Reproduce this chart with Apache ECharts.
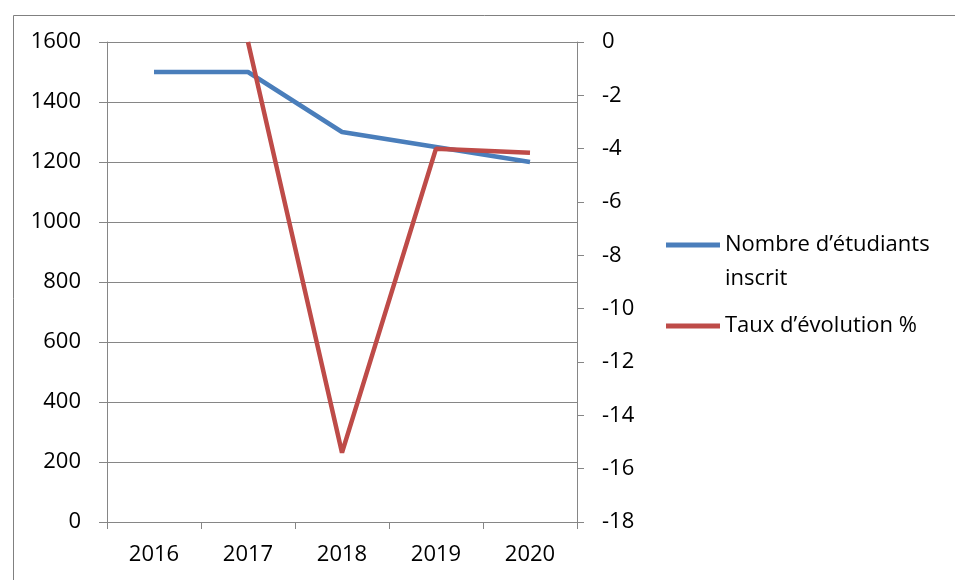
<!DOCTYPE html>
<html>
<head>
<meta charset="utf-8">
<script src="https://cdn.jsdelivr.net/npm/echarts@6/dist/echarts.min.js"></script>
<style>html,body{margin:0;padding:0;background:#fff;}#c{width:955px;height:580px;}</style>
</head>
<body>
<div id="c"></div>
<script>
const categories = ['2016', '2017', '2018', '2019', '2020'];
const students = [1500, 1500, 1300, 1250, 1200];
const evolution = ['-', 0, -15.4, -4.0, -4.15];
const leftTicks = { min: 0, max: 1600, interval: 200 };
const rightTicks = { min: -18, max: 0, interval: 2 };
const nameStudents = 'Nombre d’étudiants\ninscrit';
const nameEvolution = 'Taux d’évolution %';

const FONT = 'Open Sans';
const GRAY = '#868686';
const chart = echarts.init(document.getElementById('c'), null, { renderer: 'canvas' });
const legendText = { fontFamily: FONT, fontSize: 22, color: '#000', lineHeight: 34 };
const plain = function (v) { return String(v); };
chart.setOption({
  animation: false,
  backgroundColor: '#fff',
  graphic: [{
    type: 'rect', left: 11, top: 13, z: -1,
    shape: { width: 1000, height: 600 },
    style: { fill: 'none', stroke: '#808080', lineWidth: 1 }
  }],
  legend: [{
    data: [nameStudents], orient: 'vertical', left: 661, top: 189,
    icon: 'rect', itemWidth: 54, itemHeight: 5, itemGap: 0,
    textStyle: legendText,
    formatter: function (n) { return '\n' + n; }
  }, {
    data: [nameEvolution], orient: 'vertical', left: 661, top: 304,
    icon: 'rect', itemWidth: 54, itemHeight: 5,
    textStyle: legendText
  }],
  grid: { left: 107, right: 378, top: 42, bottom: 58, containLabel: false },
  xAxis: {
    type: 'category', data: categories, boundaryGap: true,
    axisLine: { lineStyle: { color: GRAY, width: 1 } },
    axisTick: { show: true, length: 7, alignWithLabel: false, lineStyle: { color: GRAY } },
    axisLabel: { fontFamily: FONT, fontSize: 22, color: '#000', margin: 22 }
  },
  yAxis: [{
    type: 'value', position: 'left', min: leftTicks.min, max: leftTicks.max, interval: leftTicks.interval,
    axisLine: { show: true, lineStyle: { color: GRAY, width: 1 } },
    axisTick: { show: true, length: 8, lineStyle: { color: GRAY } },
    splitLine: { show: true, lineStyle: { color: GRAY, width: 1 } },
    axisLabel: { fontFamily: FONT, fontSize: 22, color: '#000', margin: 26, formatter: plain }
  }, {
    type: 'value', position: 'right', min: rightTicks.min, max: rightTicks.max, interval: rightTicks.interval,
    axisLine: { show: true, lineStyle: { color: GRAY, width: 1 } },
    axisTick: { show: true, length: 7, lineStyle: { color: GRAY } },
    splitLine: { show: false },
    axisLabel: { fontFamily: FONT, fontSize: 22, color: '#000', margin: 25, formatter: plain }
  }],
  series: [{
    name: nameStudents, type: 'line', yAxisIndex: 0, data: students,
    showSymbol: false, symbol: 'none',
    lineStyle: { color: '#4A7EBB', width: 4.5 }, itemStyle: { color: '#4A7EBB' }
  }, {
    name: nameEvolution, type: 'line', yAxisIndex: 1, data: evolution,
    showSymbol: false, symbol: 'none',
    lineStyle: { color: '#BE4B48', width: 4.5 }, itemStyle: { color: '#BE4B48' }
  }]
});
</script>
</body>
</html>
